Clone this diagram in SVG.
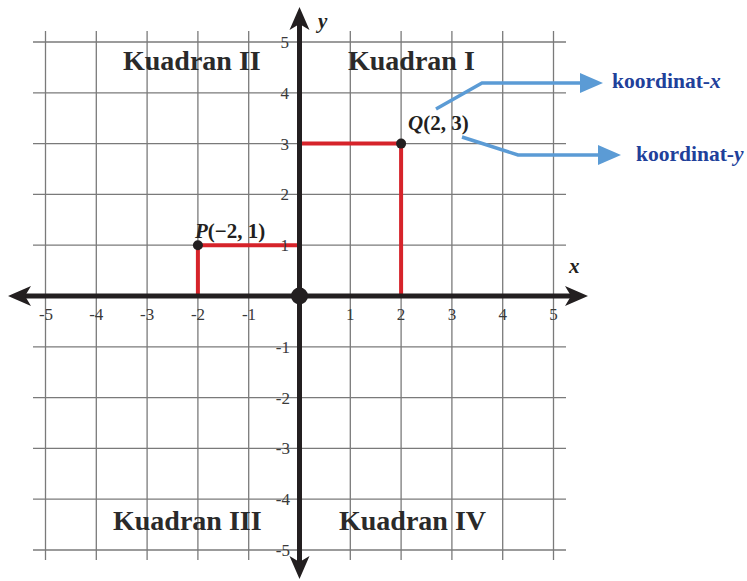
<svg xmlns="http://www.w3.org/2000/svg" width="747" height="581" viewBox="0 0 747 581">
<style>
.grid line{stroke:#7a7a7a;stroke-width:1.3}
.axis{stroke:#231f20;stroke-width:5;fill:none}
.ah{fill:#231f20}
.tick{font-family:"Liberation Serif",serif;font-size:17px;fill:#3a3a3a}
.quad{font-family:"Liberation Serif",serif;font-size:28px;font-weight:bold;fill:#2a2a2a}
.pt{font-family:"Liberation Serif",serif;font-size:21px;font-weight:bold;fill:#231f20}
.ax{font-family:"Liberation Serif",serif;font-size:21px;font-weight:bold;font-style:italic;fill:#231f20}
.red{stroke:#d6232a;stroke-width:4;fill:none}
.blue{stroke:#5b9bd5;stroke-width:3.5;fill:none}
.bh{fill:#5b9bd5}
.lbl{font-family:"Liberation Serif",serif;font-size:21.5px;font-weight:bold;fill:#21409a}
</style>
<rect width="747" height="581" fill="#fff"/>
<g id="grid" class="grid">
<line x1="45.5" y1="31" x2="45.5" y2="560"/>
<line x1="96.3" y1="31" x2="96.3" y2="560"/>
<line x1="147.1" y1="31" x2="147.1" y2="560"/>
<line x1="197.9" y1="31" x2="197.9" y2="560"/>
<line x1="248.7" y1="31" x2="248.7" y2="560"/>
<line x1="350.3" y1="31" x2="350.3" y2="560"/>
<line x1="401.1" y1="31" x2="401.1" y2="560"/>
<line x1="451.9" y1="31" x2="451.9" y2="560"/>
<line x1="502.7" y1="31" x2="502.7" y2="560"/>
<line x1="553.5" y1="31" x2="553.5" y2="560"/>
<line x1="33" y1="42" x2="566" y2="42"/>
<line x1="33" y1="92.8" x2="566" y2="92.8"/>
<line x1="33" y1="143.6" x2="566" y2="143.6"/>
<line x1="33" y1="194.4" x2="566" y2="194.4"/>
<line x1="33" y1="245.2" x2="566" y2="245.2"/>
<line x1="33" y1="346.8" x2="566" y2="346.8"/>
<line x1="33" y1="397.6" x2="566" y2="397.6"/>
<line x1="33" y1="448.4" x2="566" y2="448.4"/>
<line x1="33" y1="499.2" x2="566" y2="499.2"/>
<line x1="33" y1="550" x2="566" y2="550"/>
</g>
<g id="quadrants">
<text class="quad" x="123" y="70">Kuadran II</text>
<text class="quad" x="348" y="70">Kuadran I</text>
<text class="quad" x="113" y="530">Kuadran III</text>
<text class="quad" x="339" y="530">Kuadran IV</text>
</g>
<g id="connectors">
<polyline class="red" points="197.9,296 197.9,245.2 299.5,245.2"/>
<polyline class="red" points="299.5,143.6 401.1,143.6 401.1,296"/>
<polyline class="blue" points="436,109 482,83 584,83"/>
<polygon class="bh" points="603,83 580,73 580,93"/>
<polyline class="blue" points="462,137 518,155 602,155"/>
<polygon class="bh" points="621,155 598,145 598,165"/>
</g>
<g id="axes">
<line class="axis" x1="24" y1="296" x2="572" y2="296"/>
<line class="axis" x1="299.5" y1="22" x2="299.5" y2="562"/>
<path class="ah" d="M8,296 L31,286 L25,296 L31,306 Z"/>
<path class="ah" d="M588,296 L565,286 L571,296 L565,306 Z"/>
<path class="ah" d="M299.5,7 L289.5,30 L299.5,24 L309.5,30 Z"/>
<path class="ah" d="M299.5,579 L289.5,556 L299.5,562 L309.5,556 Z"/>
<circle cx="299.5" cy="296" r="8.5" fill="#231f20"/>
<text class="ax" x="318" y="28">y</text>
<text class="ax" x="569" y="273">x</text>
</g>
<g id="ticks" class="tick">
<g text-anchor="middle">
<text x="46" y="320">-5</text>
<text x="96.3" y="320">-4</text>
<text x="147.1" y="320">-3</text>
<text x="198" y="320">-2</text>
<text x="249" y="320">-1</text>
<text x="350.3" y="320">1</text>
<text x="401.1" y="320">2</text>
<text x="451.9" y="320">3</text>
<text x="502.7" y="320">4</text>
<text x="553.5" y="320">5</text>
</g>
<g text-anchor="end">
<text x="289" y="48">5</text>
<text x="289" y="98.8">4</text>
<text x="289" y="149.6">3</text>
<text x="289" y="200.4">2</text>
<text x="289" y="251.2">1</text>
<text x="290" y="352.8">-1</text>
<text x="290" y="403.6">-2</text>
<text x="290" y="454.4">-3</text>
<text x="290" y="505.2">-4</text>
<text x="290" y="556">-5</text>
</g>
</g>
<g id="point-P">
<circle cx="197.9" cy="245.2" r="5" fill="#231f20"/>
<text class="pt" x="195" y="238"><tspan font-style="italic">P</tspan>(−2, 1)</text>
</g>
<g id="point-Q">
<circle cx="401.1" cy="143.6" r="5" fill="#231f20"/>
<text class="pt" x="408" y="130"><tspan font-style="italic">Q</tspan>(2, 3)</text>
</g>
<g id="label-x">
<text class="lbl" x="612" y="88">koordinat-<tspan font-style="italic">x</tspan></text>
</g>
<g id="label-y">
<text class="lbl" x="636" y="161">koordinat-<tspan font-style="italic">y</tspan></text>
</g>
</svg>
